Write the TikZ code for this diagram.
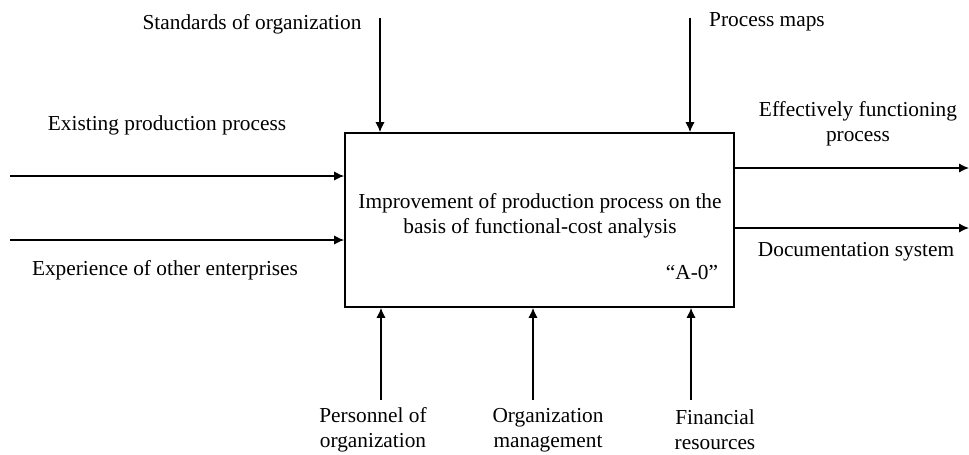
\documentclass[tikz,border=0pt]{standalone}
\usepackage{fontspec}
\setmainfont{Liberation Serif}
\usetikzlibrary{arrows.meta,calc,positioning}

\begin{document}
\begin{tikzpicture}[x=0.75pt,y=-0.75pt,line width=1.2pt,>={Latex[length=7.5pt,width=7pt]},
  every node/.style={font=\fontsize{16}{19}\selectfont,align=center,inner sep=0pt}]
\useasboundingbox (0,0) rectangle (969,454);
% main function block
\node[draw,line width=1.2pt,minimum width=291.75pt,minimum height=130.5pt] (box) at (539.5,220) {};
\node (title) at (540,216) {Improvement of production process on the\\basis of functional-cost analysis};
\node (code) at (692,272) {``A-0''};
% inputs
\coordinate (in1) at (10,176);
\coordinate (in2) at (10,240);
\draw[->] (in1) -- (in1 -| box.west);
\draw[->] (in2) -- (in2 -| box.west);
\node (lin1) at (167,125) {Existing production process};
\node (lin2) at (165,270) {Experience of other enterprises};
% outputs
\coordinate (out1) at (969,168);
\coordinate (out2) at (969,228);
\draw[->] (out1 -| box.east) -- (out1);
\draw[->] (out2 -| box.east) -- (out2);
\node (lout1) at (858,124) {Effectively functioning\\process};
\node (lout2) at (856,252) {Documentation system};
% controls
\coordinate (ctl1) at (380,18);
\coordinate (ctl2) at (690,18);
\draw[->] (ctl1) -- (ctl1 |- box.north);
\draw[->] (ctl2) -- (ctl2 |- box.north);
\node (lctl1) at (252,24) {Standards of organization};
\node (lctl2) at (767,22) {Process maps};
% mechanisms
\coordinate (mec1) at (381,400);
\coordinate (mec2) at (533,400);
\coordinate (mec3) at (691,400);
\foreach \m in {mec1,mec2,mec3}
  \draw[->] (\m) -- (\m |- box.south);
\node (lmec1) at (373,430) {Personnel of\\organization};
\node (lmec2) at (548,430) {Organization\\management};
\node (lmec3) at (715,430) {Financial\\resources};
\end{tikzpicture}
\end{document}
